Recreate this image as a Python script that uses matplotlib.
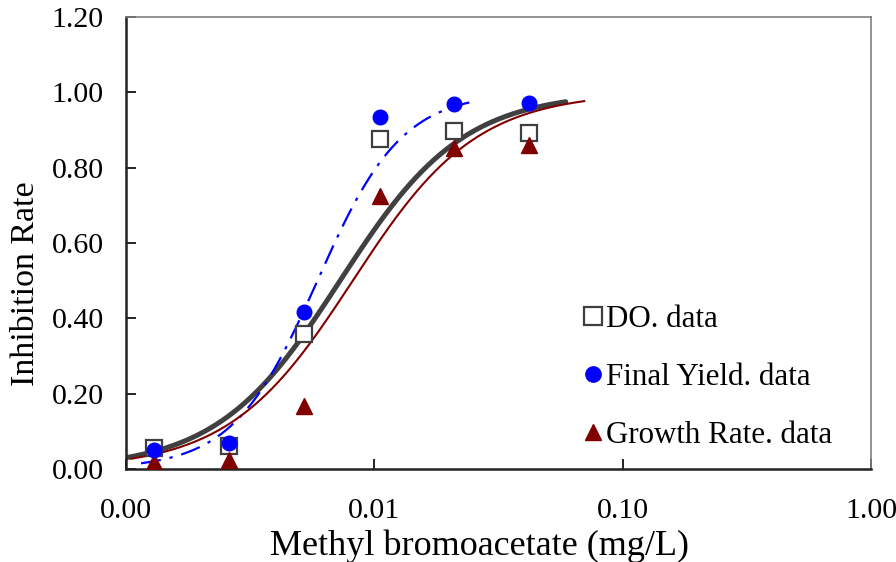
import numpy as np
import matplotlib
matplotlib.use("Agg")
import matplotlib.pyplot as plt
from matplotlib.ticker import FixedLocator, FixedFormatter, NullLocator

plt.rcParams['font.family'] = ['Liberation Serif', 'DejaVu Serif']

conc = [0.0013, 0.0026, 0.0052, 0.0105, 0.021, 0.042]
do_data = [0.055, 0.060, 0.358, 0.876, 0.897, 0.892]
fy_data = [0.050, 0.070, 0.417, 0.934, 0.969, 0.972]
gr_data = [0.018, 0.024, 0.167, 0.724, 0.852, 0.860]

# Hill fit parameters (EC50, slope, x-range)
do_fit = (0.00728, 1.75, 0.001, 0.059)
fy_fit = (0.0059, 2.55, 0.00115, 0.026)
gr_fit = (0.00819, 1.74, 0.00105, 0.070)

x_ticks = [0.001, 0.01, 0.1, 1.0]
x_ticklabels = ["0.00", "0.01", "0.10", "1.00"]
y_ticks = [0.0, 0.2, 0.4, 0.6, 0.8, 1.0, 1.2]


def hill(params):
    ec50, n, lo, hi = params
    x = np.logspace(np.log10(lo), np.log10(hi), 300)
    return x, 1.0 / (1.0 + (ec50 / x) ** n)


fig = plt.figure(figsize=(8.96, 5.62), dpi=100)
ax = fig.add_axes([126 / 896, 1 - 469 / 562, (871 - 126) / 896, (469 - 17) / 562])

x, y = hill(do_fit)
ax.plot(x, y, color='#404040', lw=3.6, zorder=2, solid_capstyle='round')
x, y = hill(fy_fit)
ax.plot(x, y, color='#0000ff', lw=1.6, ls=(0, (9, 4, 1.5, 4)), zorder=2)
x, y = hill(gr_fit)
ax.plot(x, y, color='#800000', lw=1.5, zorder=2)

ax.plot(conc, do_data, ls='none', marker='s', ms=12, mfc='white', mec='#3f3f3f',
        mew=1.6, label='DO. data', zorder=3)
ax.plot(conc, fy_data, ls='none', marker='o', ms=10.5, mfc='#0000ff', mec='#0000ff',
        label='Final Yield. data', zorder=4)
ax.plot(conc, gr_data, ls='none', marker='^', ms=11, mfc='#800000', mec='#800000',
        label='Growth Rate. data', zorder=3)

ax.set_xscale('log')
ax.set_xlim(0.001, 1.0)
ax.set_ylim(0, 1.2)
ax.xaxis.set_major_locator(FixedLocator(x_ticks))
ax.xaxis.set_major_formatter(FixedFormatter(x_ticklabels))
ax.xaxis.set_minor_locator(NullLocator())
ax.set_yticks(y_ticks)
ax.set_yticklabels([f"{v:.2f}" for v in y_ticks])

ax.tick_params(axis='both', direction='in', length=7, width=1.2, labelsize=21.5,
               colors='black')
ax.tick_params(axis='x', pad=21)
ax.tick_params(axis='y', pad=16)

for s in ['left', 'bottom']:
    ax.spines[s].set_color('#222222')
    ax.spines[s].set_linewidth(1.8)
for s in ['top', 'right']:
    ax.spines[s].set_color('#808080')
    ax.spines[s].set_linewidth(1.2)

ax.set_xlabel('Methyl bromoacetate (mg/L)', fontsize=26, va='center')
ax.xaxis.set_label_coords(0.474, -0.170)
ax.set_ylabel('Inhibition Rate', fontsize=24.5, va='center')
ax.yaxis.set_label_coords(-0.135, 0.411)

leg = ax.legend(loc='upper left', bbox_to_anchor=(0.617, 0.363), frameon=False,
                fontsize=22.3, handlelength=0.5, handletextpad=0.15,
                labelspacing=0.93, markerscale=1.05, borderpad=0, borderaxespad=0)

fig.savefig('out.png', dpi=100)
